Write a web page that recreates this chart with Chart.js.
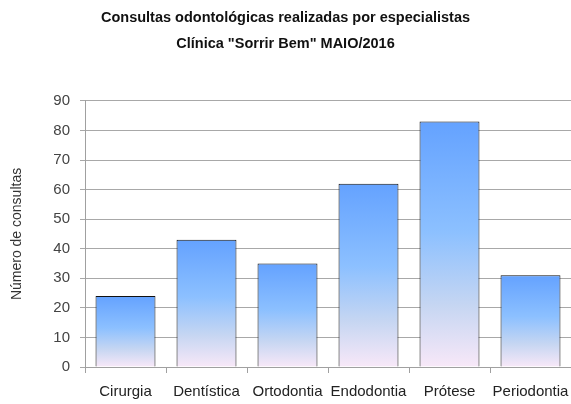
<!DOCTYPE html>
<html>
<head>
<meta charset="utf-8">
<script src="https://cdn.jsdelivr.net/npm/chart.js@4"></script>
<style>
  html, body { margin: 0; padding: 0; background: #fff; }
  #wrap { width: 571px; height: 404px; }
</style>
</head>
<body>
<div id="wrap"><canvas id="chart"></canvas></div>
<script>
const especialidades = ["Cirurgia", "Dentística", "Ortodontia", "Endodontia", "Prótese", "Periodontia"];
const consultas = [24, 43, 35, 62, 83, 31];
const tituloLinhas = ["Consultas odontológicas realizadas por especialistas", "Clínica \"Sorrir Bem\" MAIO/2016"];
const tituloEixoY = "Número de consultas";

const FONT = "'Liberation Sans Narrow', 'Arial Narrow', 'Liberation Sans', Arial, sans-serif";

// gradient per bar: blue at top, light pink at base
function barFill(context) {
  const chart = context.chart;
  const y = chart.scales.y;
  if (!chart.chartArea || !y) return "#7fb3ff";
  const top = y.getPixelForValue(consultas[context.dataIndex]);
  const base = y.getPixelForValue(0);
  const g = chart.ctx.createLinearGradient(0, top, 0, base);
  g.addColorStop(0, "#64a2ff");
  g.addColorStop(0.45, "#8cc0ff");
  g.addColorStop(0.75, "#c6d6f2");
  g.addColorStop(1, "#f8e8f8");
  return g;
}

new Chart(document.getElementById("chart"), {
  type: "bar",
  data: {
    labels: especialidades,
    datasets: [{
      data: consultas,
      backgroundColor: barFill,
      borderColor: "#111",
      borderWidth: 1,
      categoryPercentage: 1,
      barPercentage: 0.74
    }]
  },
  options: {
    responsive: true,
    maintainAspectRatio: false,
    animation: false,
    layout: { padding: 0 },
    plugins: {
      legend: { display: false },
      tooltip: { enabled: false },
      title: {
        display: true,
        text: tituloLinhas,
        color: "#111",
        font: { family: FONT, size: 14.5, weight: "bold", lineHeight: 1.79 },
        padding: { top: 5, bottom: 44 }
      }
    },
    scales: {
      x: {
        grid: {
          drawOnChartArea: false,
          drawTicks: true,
          tickLength: 6,
          color: "#a0a0a0",
          offset: true
        },
        border: { color: "#a0a0a0" },
        ticks: { color: "#222", font: { family: FONT, size: 15 }, padding: 10, maxRotation: 0, autoSkip: false },
        afterFit: (scale) => {
          scale.height = 37;
          scale.paddingLeft = 0;
          scale.paddingRight = 0;
        }
      },
      y: {
        min: 0,
        max: 90,
        ticks: { stepSize: 10, color: "#444", font: { family: FONT, size: 15 }, padding: 10 },
        grid: { color: "#a8a8a8", tickLength: 5 },
        border: { color: "#a0a0a0" },
        title: {
          display: true,
          text: tituloEixoY,
          color: "#333",
          font: { family: FONT, size: 14 },
          padding: { top: 9, bottom: 0 }
        },
        afterFit: (scale) => { scale.width = 85; }
      }
    }
  }
});
</script>
</body>
</html>
